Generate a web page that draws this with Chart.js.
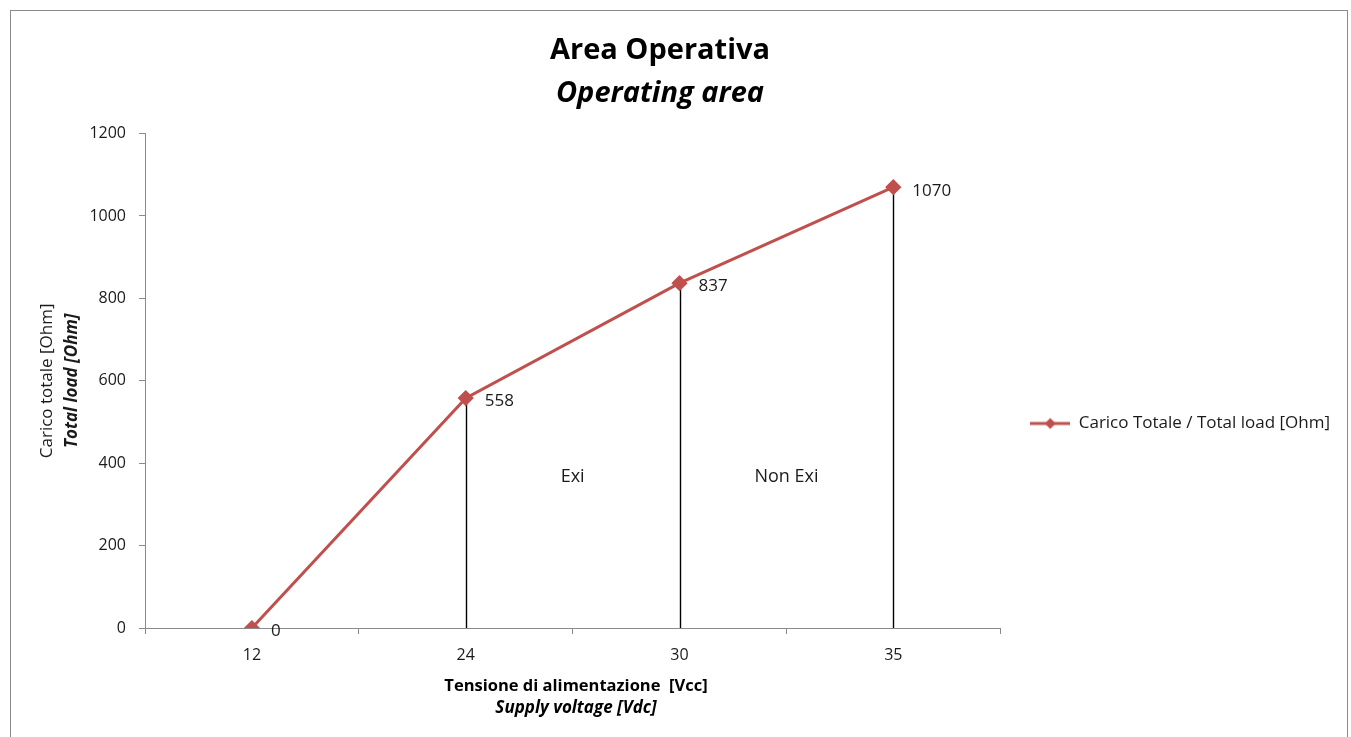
<!DOCTYPE html>
<html>
<head>
<meta charset="utf-8">
<script src="https://cdn.jsdelivr.net/npm/chart.js@4/dist/chart.umd.min.js"></script>
<style>
  html, body { margin: 0; padding: 0; background: #fff; }
  #wrap { position: relative; width: 1351px; height: 737px; }
</style>
</head>
<body>
<div id="wrap"><canvas id="c" width="1351" height="737"></canvas></div>
<script>
// ---- data ----
const categories = ["12", "24", "30", "35"];
const loadValues = [0, 558, 837, 1070];
const seriesName = "Carico Totale / Total load [Ohm]";
const yTicks = [0, 200, 400, 600, 800, 1000, 1200];
const zoneLabels = ["Exi", "Non Exi"];
const zoneCenters = [1.5, 2.5];   // category-index midpoints
const zoneValue = 368;
const titleText = "Area Operativa";
const subtitleText = "Operating area";
const xTitle1 = "Tensione di alimentazione  [Vcc]";
const xTitle2 = "Supply voltage [Vdc]";
const yTitle1 = "Carico totale [Ohm]";
const yTitle2 = "Total load [Ohm]";

const RED = "#C0504D";
const FONT = "'Open Sans', sans-serif";

// legend icon: line with diamond marker
const icon = document.createElement("canvas");
icon.width = 40; icon.height = 14;
(function () {
  const g = icon.getContext("2d");
  g.strokeStyle = RED; g.lineWidth = 3;
  g.beginPath(); g.moveTo(0, 7); g.lineTo(40, 7); g.stroke();
  g.fillStyle = RED;
  g.beginPath(); g.moveTo(20, 1.5); g.lineTo(25.5, 7); g.lineTo(20, 12.5); g.lineTo(14.5, 7); g.closePath(); g.fill();
})();

const decor = {
  id: "decor",
  beforeDraw(chart) {
    const ctx = chart.ctx;
    ctx.save();
    ctx.fillStyle = "#fff";
    ctx.fillRect(0, 0, chart.width, chart.height);
    ctx.strokeStyle = "#8a8a8a";
    ctx.lineWidth = 1;
    ctx.strokeRect(10.5, 10.5, 1337, 740);
    ctx.restore();
  },
  beforeDatasetsDraw(chart) {
    const ctx = chart.ctx;
    const meta = chart.getDatasetMeta(0);
    const y0 = chart.scales.y.getPixelForValue(0);
    ctx.save();
    ctx.strokeStyle = "#000";
    ctx.lineWidth = 1.4;
    meta.data.forEach((p, i) => {
      if (loadValues[i] > 0) {
        const x = Math.round(p.x) + 0.5;
        ctx.beginPath(); ctx.moveTo(x, p.y); ctx.lineTo(x, y0); ctx.stroke();
      }
    });
    ctx.restore();
  },
  afterDatasetsDraw(chart) {
    const ctx = chart.ctx;
    const meta = chart.getDatasetMeta(0);
    const xs = chart.scales.x, ys = chart.scales.y;
    ctx.save();
    ctx.fillStyle = "#1a1a1a";
    ctx.font = "17px " + FONT;
    ctx.textAlign = "left";
    ctx.textBaseline = "middle";
    meta.data.forEach((p, i) => {
      ctx.fillText(String(loadValues[i]), p.x + 19, p.y + 3.5);
    });
    ctx.font = "18px " + FONT;
    ctx.textAlign = "center";
    zoneLabels.forEach((t, i) => {
      ctx.fillText(t, xs.getPixelForValue(zoneCenters[i]), ys.getPixelForValue(zoneValue));
    });
    // axis titles
    const ca = chart.chartArea;
    const cx = 576;
    ctx.fillStyle = "#000";
    ctx.font = "bold 16.5px " + FONT;
    ctx.fillText(xTitle1, cx, 686);
    ctx.font = "italic bold 17px " + FONT;
    ctx.fillText(xTitle2, cx, 708);
    const cy = (ca.top + ca.bottom) / 2;
    ctx.translate(47, cy);
    ctx.rotate(-Math.PI / 2);
    ctx.fillStyle = "#1a1a1a";
    ctx.font = "17px " + FONT;
    ctx.fillText(yTitle1, 0, 0);
    ctx.font = "italic bold 17px " + FONT;
    ctx.fillText(yTitle2, 0, 25);
    ctx.restore();
  },
  afterLayout(chart) {
    const lg = chart.legend;
    if (lg) { lg.top += 55; lg.bottom += 55; lg.left += 20; lg.right += 20; }
  }
};

new Chart(document.getElementById("c"), {
  type: "line",
  data: {
    labels: categories,
    datasets: [{
      label: seriesName,
      data: loadValues,
      borderColor: RED,
      backgroundColor: RED,
      borderWidth: 3,
      pointStyle: "rectRot",
      pointRadius: 6,
      pointHoverRadius: 6,
      pointBackgroundColor: RED,
      pointBorderColor: RED,
      tension: 0,
      fill: false
    }]
  },
  options: {
    responsive: false,
    animation: false,
    devicePixelRatio: 1,
    layout: { padding: { left: 0, right: 31, top: 0, bottom: 0 } },
    plugins: {
      tooltip: { enabled: false },
      title: {
        display: true, text: titleText, color: "#000",
        font: { family: FONT, size: 29, weight: "bold" },
        padding: { top: 33, bottom: 4 }
      },
      subtitle: {
        display: true, text: subtitleText, color: "#000",
        font: { family: FONT, size: 29, weight: "bold", style: "italic" },
        padding: { top: 5, bottom: 22 }
      },
      legend: {
        position: "right",
        align: "center",
        labels: {
          color: "#1a1a1a",
          font: { family: FONT, size: 17 },
          usePointStyle: true,
          pointStyleWidth: 40,
          padding: 10,
          generateLabels(chart) {
            const items = Chart.defaults.plugins.legend.labels.generateLabels(chart);
            items.forEach(it => { it.pointStyle = icon; });
            return items;
          }
        }
      }
    },
    scales: {
      x: {
        type: "category",
        offset: true,
        grid: { offset: true, drawOnChartArea: false, tickLength: 6, color: "#8a8a8a", tickColor: "#8a8a8a" },
        border: { color: "#8a8a8a", width: 1 },
        ticks: { color: "#1a1a1a", font: { family: FONT, size: 16 }, padding: 12, maxRotation: 0 },
        afterFit(s) { s.height = 109; }
      },
      y: {
        min: 0, max: 1200,
        afterBuildTicks(s) { s.ticks = yTicks.map(v => ({ value: v })); },
        grid: { drawOnChartArea: false, tickLength: 6, color: "#8a8a8a", tickColor: "#8a8a8a" },
        border: { color: "#8a8a8a", width: 1 },
        ticks: { color: "#1a1a1a", font: { family: FONT, size: 16 }, padding: 13, callback: v => String(v) },
        afterFit(s) { s.width = 145; }
      }
    }
  },
  plugins: [decor]
});
</script>
</body>
</html>
